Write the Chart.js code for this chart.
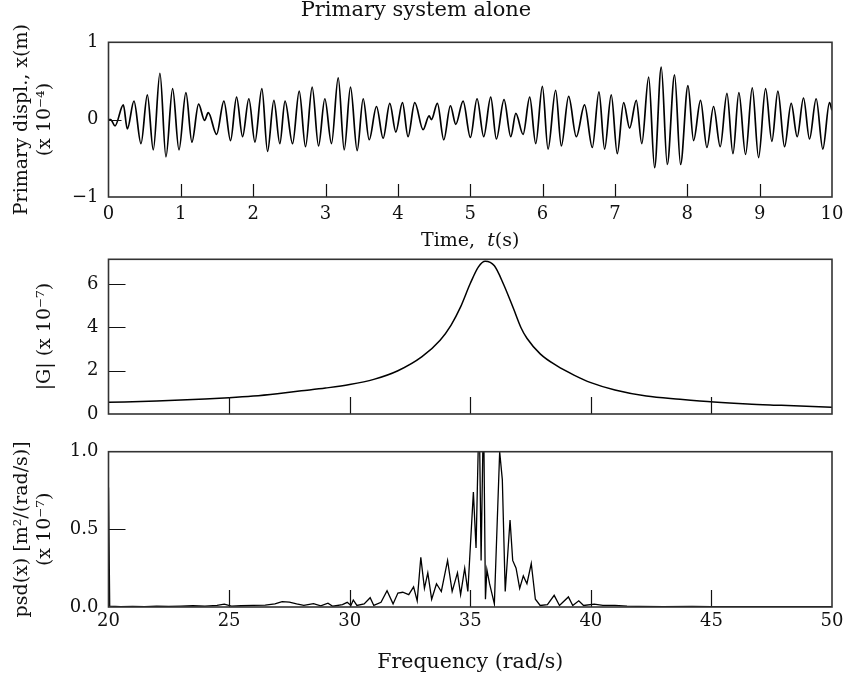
<!DOCTYPE html>
<html>
<head>
<meta charset="utf-8">
<title>Primary system alone</title>
<script src="https://cdn.jsdelivr.net/npm/chart.js@4.4.1/dist/chart.umd.min.js"></script>
<style>
body { margin: 0; background: #fff; }
#wrap { position: relative; width: 843px; height: 679px; }
canvas { position: absolute; left: 0; }
</style>
</head>
<body>
<div id="wrap">
	<canvas id="c1" style="top:0px" width="843" height="250"></canvas>
	<canvas id="c2" style="top:250px" width="843" height="180"></canvas>
	<canvas id="c3" style="top:430px" width="843" height="249"></canvas>
</div>
<script>
var FONT = "'DejaVu Serif', serif";

// primary displacement (x 1e-4 m), read peak by peak
var dispTime = [0.00, 0.03, 0.09, 0.205, 0.26, 0.352, 0.449, 0.537, 0.619, 0.711, 0.794, 0.886, 0.974, 1.07, 1.153, 1.245, 1.328, 1.379, 1.494, 1.595, 1.687, 1.77, 1.853, 1.94, 2.024, 2.12, 2.198, 2.286, 2.368, 2.44, 2.544, 2.636, 2.723, 2.815, 2.903, 2.99, 3.082, 3.175, 3.258, 3.345, 3.437, 3.52, 3.603, 3.704, 3.796, 3.888, 3.971, 4.063, 4.14, 4.233, 4.348, 4.431, 4.463, 4.546, 4.634, 4.726, 4.80, 4.901, 5.002, 5.094, 5.186, 5.283, 5.361, 5.467, 5.56, 5.63, 5.73, 5.822, 5.905, 5.997, 6.075, 6.18, 6.259, 6.36, 6.466, 6.58, 6.687, 6.779, 6.857, 6.949, 7.032, 7.12, 7.203, 7.295, 7.371, 7.466, 7.548, 7.64, 7.723, 7.824, 7.907, 8.009, 8.087, 8.183, 8.271, 8.363, 8.455, 8.548, 8.631, 8.713, 8.805, 8.898, 8.985, 9.082, 9.169, 9.252, 9.344, 9.436, 9.519, 9.606, 9.689, 9.781, 9.873, 9.965, 10.0];
var dispValue = [0, 0, -0.08, 0.19, -0.12, 0.24, -0.31, 0.32, -0.39, 0.60, -0.48, 0.40, -0.39, 0.35, -0.29, 0.20, -0.01, 0.09, -0.19, 0.24, -0.27, 0.29, -0.22, 0.27, -0.29, 0.40, -0.41, 0.25, -0.31, 0.24, -0.31, 0.37, -0.35, 0.42, -0.34, 0.27, -0.31, 0.54, -0.39, 0.42, -0.40, 0.27, -0.26, 0.17, -0.24, 0.21, -0.16, 0.22, -0.22, 0.22, -0.13, 0.05, 0.00, 0.21, -0.26, 0.18, -0.06, 0.24, -0.23, 0.27, -0.22, 0.29, -0.25, 0.26, -0.22, 0.08, -0.19, 0.29, -0.31, 0.43, -0.38, 0.38, -0.34, 0.30, -0.22, 0.19, -0.36, 0.36, -0.38, 0.32, -0.44, 0.22, -0.11, 0.25, -0.31, 0.55, -0.62, 0.68, -0.58, 0.58, -0.58, 0.44, -0.27, 0.25, -0.36, 0.17, -0.35, 0.34, -0.44, 0.35, -0.45, 0.41, -0.49, 0.40, -0.28, 0.37, -0.35, 0.21, -0.22, 0.28, -0.25, 0.27, -0.38, 0.22, 0.12];

// |G| (x 1e-7)
var freqG = [20, 22, 24, 25, 26, 27, 28, 29, 30, 31, 32, 33, 33.75, 34.2, 34.6, 35.0, 35.34, 35.62, 36.0, 36.38, 36.8, 37.1, 37.35, 37.9, 38.6, 39.3, 40, 41, 42.3, 43.7, 45.1, 46.5, 47.9, 50];
var gainG = [0.54, 0.60, 0.69, 0.75, 0.83, 0.94, 1.07, 1.20, 1.36, 1.60, 2.00, 2.65, 3.41, 4.10, 4.95, 6.03, 6.80, 7.06, 6.85, 6.00, 4.85, 4.00, 3.50, 2.78, 2.22, 1.80, 1.45, 1.11, 0.83, 0.68, 0.55, 0.46, 0.40, 0.31];

// psd(x) (x 1e-7)
var freqP = [20.0, 20.05, 20.5, 21.0, 21.5, 22.0, 22.5, 23.0, 23.5, 24.0, 24.5, 24.8, 25.1, 25.5, 26.0, 26.5, 26.9, 27.2, 27.5, 27.8, 28.1, 28.5, 28.8, 29.1, 29.3, 29.7, 29.9, 30.05, 30.15, 30.3, 30.6, 30.85, 31.0, 31.3, 31.55, 31.8, 32.0, 32.2, 32.45, 32.65, 32.8, 32.95, 33.1, 33.24, 33.4, 33.6, 33.8, 34.06, 34.25, 34.47, 34.6, 34.77, 34.9, 35.13, 35.24, 35.37, 35.45, 35.55, 35.63, 35.69, 35.8, 36.0, 36.22, 36.33, 36.45, 36.65, 36.76, 36.9, 37.05, 37.2, 37.35, 37.53, 37.7, 37.9, 38.2, 38.48, 38.7, 39.07, 39.25, 39.5, 39.7, 40.14, 40.5, 41.0, 41.5, 42.0, 43.0, 44.2, 45.0, 46.0, 47.0, 48.0, 49.0, 50.0];
var psdP = [0.77, 0.005, 0.003, 0.004, 0.003, 0.005, 0.004, 0.006, 0.008, 0.006, 0.01, 0.018, 0.006, 0.008, 0.01, 0.012, 0.02, 0.035, 0.032, 0.02, 0.01, 0.022, 0.008, 0.025, 0.005, 0.015, 0.03, 0.01, 0.045, 0.01, 0.02, 0.06, 0.01, 0.03, 0.105, 0.02, 0.09, 0.095, 0.08, 0.13, 0.04, 0.32, 0.12, 0.22, 0.05, 0.15, 0.10, 0.30, 0.10, 0.22, 0.08, 0.25, 0.10, 0.74, 0.38, 1.3, 0.3, 1.3, 0.05, 0.24, 0.15, 0.02, 1.0, 0.82, 0.10, 0.56, 0.30, 0.25, 0.12, 0.20, 0.15, 0.28, 0.05, 0.01, 0.015, 0.075, 0.01, 0.065, 0.01, 0.04, 0.01, 0.018, 0.01, 0.01, 0.005, 0.004, 0.003, 0.004, 0.003, 0.003, 0.002, 0.003, 0.002, 0.002];

var timeTicks = [1, 2, 3, 4, 5, 6, 7, 8, 9];
var freqTicks = [25, 30, 35, 40, 45];

function pts(xs, ys) {
	return xs.map(function (x, i) { return { x: x, y: ys[i] }; });
}

// box round the plot area and inward tick marks
var frame = {
	id: 'frame',
	afterDatasetsDraw: function (chart, args, opts) {
		var a = chart.chartArea, ctx = chart.ctx;
		ctx.save();
		ctx.strokeStyle = '#111';
		ctx.lineWidth = 1.2;
		ctx.beginPath();
		(opts.x || []).forEach(function (v) {
			var px = Math.round(chart.scales.x.getPixelForValue(v)) + 0.5;
			ctx.moveTo(px, a.bottom);
			ctx.lineTo(px, a.bottom - opts.len);
		});
		(opts.y || []).forEach(function (v) {
			var py = Math.round(chart.scales.y.getPixelForValue(v)) + 0.5;
			ctx.moveTo(a.left, py);
			ctx.lineTo(a.left + opts.len, py);
		});
		ctx.stroke();
		ctx.strokeStyle = '#333';
		ctx.lineWidth = 1.6;
		ctx.strokeRect(a.left, a.top, a.right - a.left, a.bottom - a.top);
		ctx.restore();
	}
};

// "Time, t(s)" with italic t
var timeTitle = {
	id: 'timeTitle',
	afterDraw: function (chart) {
		var ctx = chart.ctx;
		var parts = [['Time,  ', 'normal'], ['t', 'italic'], ['(s)', 'normal']];
		ctx.save();
		ctx.fillStyle = '#111';
		ctx.textBaseline = 'middle';
		var w = 0;
		parts.forEach(function (p) { ctx.font = p[1] + ' 19px ' + FONT; w += ctx.measureText(p[0]).width; });
		var x = (chart.chartArea.left + chart.chartArea.right) / 2 - w / 2;
		parts.forEach(function (p) {
			ctx.font = p[1] + ' 19px ' + FONT;
			ctx.fillText(p[0], x, 241);
			x += ctx.measureText(p[0]).width;
		});
		ctx.restore();
	}
};

function tickFont() { return { family: FONT, size: 18 }; }
function titleFont(size) { return { family: FONT, size: size || 19, lineHeight: 1.2 }; }
var noGrid = { display: false, drawTicks: false };

// fixed box sizes so that the plot areas line up
function fixH(h) {
	return function (s) { s.height = h; s.paddingLeft = 0; s.paddingRight = 0; s.paddingTop = 0; s.paddingBottom = 0; };
}
function fixW(w) {
	return function (s) { s.width = w; s.paddingLeft = 0; s.paddingRight = 0; s.paddingTop = 0; s.paddingBottom = 0; };
}

new Chart(document.getElementById('c1'), {
	type: 'line',
	data: { datasets: [{ data: pts(dispTime, dispValue), borderColor: '#000', borderWidth: 1.7, pointRadius: 0, cubicInterpolationMode: 'monotone', fill: false }] },
	options: {
		responsive: false, animation: false,
		layout: { padding: { left: 0, right: 11, top: 0, bottom: 0 }, autoPadding: false },
		plugins: {
			legend: { display: false }, tooltip: { enabled: false },
			title: { display: true, text: 'Primary system alone', color: '#111', font: { family: FONT, size: 21, weight: 'normal', lineHeight: 1.0 }, padding: { top: 0, bottom: 21.3 } },
			frame: { x: timeTicks, y: [0], len: 13 }
		},
		scales: {
			x: {
				type: 'linear', min: 0, max: 10,
				afterFit: fixH(53),
				grid: noGrid, border: { display: false },
				ticks: { stepSize: 1, padding: 7, color: '#111', font: tickFont() }
			},
			y: {
				type: 'linear', min: -1, max: 1,
				afterFit: fixW(108.5),
				grid: noGrid, border: { display: false },
				ticks: { stepSize: 1, padding: 10, color: '#111', font: tickFont(), callback: function (v) { return v < 0 ? '\u2212' + Math.abs(v) : '' + v; } },
				title: { display: true, text: ['Primary displ., x(m)', '(x 10\u207B\u2074)'], color: '#111', font: titleFont(), padding: { top: 10.6, bottom: 0 } }
			}
		}
	},
	plugins: [frame, timeTitle]
});

new Chart(document.getElementById('c2'), {
	type: 'line',
	data: { datasets: [{ data: pts(freqG, gainG), borderColor: '#000', borderWidth: 1.5, pointRadius: 0, cubicInterpolationMode: 'monotone', fill: false }] },
	options: {
		responsive: false, animation: false,
		layout: { padding: { left: 0, right: 11, top: 9.3, bottom: 0 }, autoPadding: false },
		plugins: {
			legend: { display: false }, tooltip: { enabled: false },
			frame: { x: freqTicks, y: [2, 4, 6], len: 17 }
		},
		scales: {
			x: {
				type: 'linear', min: 20, max: 50,
				afterFit: fixH(16),
				grid: noGrid, border: { display: false },
				ticks: { display: false, stepSize: 5 }
			},
			y: {
				type: 'linear', min: 0, max: 7.15,
				afterFit: fixW(108.5),
				grid: noGrid, border: { display: false },
				ticks: { stepSize: 2, includeBounds: false, padding: 10, color: '#111', font: tickFont() },
				title: { display: true, text: '|G| (x 10\u207B\u2077)', color: '#111', font: titleFont(), padding: { top: 33.6, bottom: 0 } }
			}
		}
	},
	plugins: [frame]
});

new Chart(document.getElementById('c3'), {
	type: 'line',
	data: { datasets: [{ data: pts(freqP, psdP), borderColor: '#000', borderWidth: 1.3, pointRadius: 0, tension: 0, fill: false }] },
	options: {
		responsive: false, animation: false,
		layout: { padding: { left: 0, right: 11, top: 21.7, bottom: 0 }, autoPadding: false },
		plugins: {
			legend: { display: false }, tooltip: { enabled: false },
			frame: { x: freqTicks, y: [0.5], len: 17 }
		},
		scales: {
			x: {
				type: 'linear', min: 20, max: 50,
				afterFit: fixH(72),
				grid: noGrid, border: { display: false },
				ticks: { stepSize: 5, padding: 4, color: '#111', font: tickFont() },
				title: { display: true, text: 'Frequency (rad/s)', color: '#111', font: titleFont(20.5), padding: { top: 0, bottom: 3.7 } }
			},
			y: {
				type: 'linear', min: 0, max: 1,
				afterFit: fixW(108.5),
				grid: noGrid, border: { display: false },
				ticks: { stepSize: 0.5, padding: 10, color: '#111', font: tickFont(), callback: function (v) { return v.toFixed(1); } },
				title: { display: true, text: ['psd(x) [m\u00B2/(rad/s)]', '(x 10\u207B\u2077)'], color: '#111', font: titleFont(), padding: { top: 10.6, bottom: 0 } }
			}
		}
	},
	plugins: [frame]
});
</script>
</body>
</html>
